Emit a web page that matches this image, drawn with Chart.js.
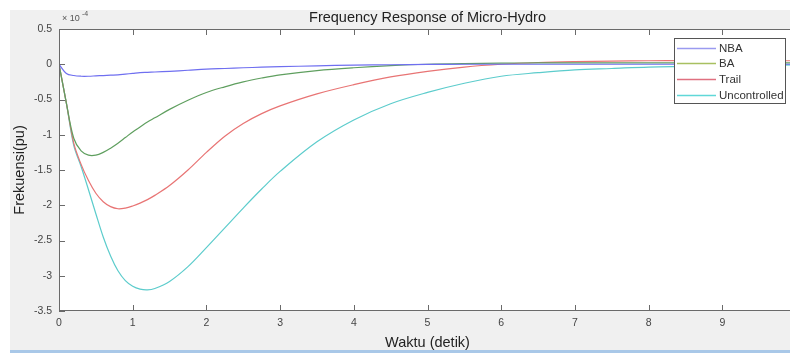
<!DOCTYPE html>
<html>
<head>
<meta charset="utf-8">
<script src="https://cdn.jsdelivr.net/npm/chart.js@4"></script>
<style>
html,body{margin:0;padding:0;background:#fff;overflow:hidden;width:790px;height:354px;}
canvas{display:block;}
</style>
</head>
<body>
<canvas id="c" width="800" height="354" style="width:800px;height:354px"></canvas>
<script>
// time (detik)
const timeS = [0,0.1,0.2,0.3,0.4,0.5,0.6,0.7,0.8,0.9,1.0,1.1,1.2,1.3,1.5,1.75,2,2.25,2.5,2.75,3,3.5,4,4.5,5,5.5,6,6.5,7,7.5,8,8.5,9,9.5,10];
// frequency deviation, x1e-4 pu
const nba = [0,-0.13,-0.16,-0.17,-0.17,-0.165,-0.16,-0.155,-0.15,-0.14,-0.13,-0.12,-0.115,-0.11,-0.1,-0.085,-0.07,-0.06,-0.05,-0.042,-0.035,-0.022,-0.013,-0.007,-0.003,0,0,0,0,0,0,0,0,0,0];
const ba = [0,-0.55,-1.05,-1.23,-1.29,-1.29,-1.25,-1.19,-1.12,-1.04,-0.96,-0.89,-0.82,-0.76,-0.64,-0.51,-0.4,-0.32,-0.25,-0.195,-0.15,-0.09,-0.05,-0.02,0,0.01,0.015,0.02,0.02,0.02,0.02,0.02,0.02,0.02,0.02];
const trail = [0,-0.55,-1.12,-1.42,-1.65,-1.83,-1.95,-2.02,-2.05,-2.04,-2.01,-1.97,-1.92,-1.86,-1.72,-1.5,-1.25,-1.02,-0.84,-0.7,-0.59,-0.42,-0.29,-0.18,-0.1,-0.04,0,0.025,0.038,0.045,0.05,0.05,0.05,0.05,0.05];
const uncontrolled = [0,-0.55,-1.15,-1.45,-1.78,-2.12,-2.45,-2.72,-2.93,-3.07,-3.15,-3.19,-3.2,-3.18,-3.08,-2.87,-2.6,-2.32,-2.04,-1.77,-1.52,-1.1,-0.79,-0.56,-0.4,-0.27,-0.17,-0.12,-0.08,-0.06,-0.04,-0.03,-0.02,-0.015,-0.01];
const seriesNames = ['NBA','BA','Trail','Uncontrolled'];
const seriesColors = ['#6f6ff0','#5f9f5f','#e87474','#5ccccc'];
const legendColors = ['#9a9af0','#a8c060','#e07080','#60d8d8'];
const xTicks = [0,1,2,3,4,5,6,7,8,9];
const yTicks = [0.5,0,-0.5,-1,-1.5,-2,-2.5,-3,-3.5];
const chartTitle = 'Frequency Response of Micro-Hydro';
const xTitle = 'Waktu (detik)';
const yTitle = 'Frekuensi(pu)';

const allSeries = [nba, ba, trail, uncontrolled];
const datasets = allSeries.map((vals, i) => ({
  label: seriesNames[i],
  data: vals.map((v, k) => ({x: timeS[k], y: v})),
  borderColor: seriesColors[i],
  borderWidth: 1.2,
  pointRadius: 0,
  fill: false,
  tension: 0.35
}));

const FONT = '"Liberation Sans", Arial, sans-serif';

const decor = {
  id: 'decor',
  beforeDraw(chart) {
    const ctx = chart.ctx, a = chart.chartArea;
    ctx.save();
    ctx.fillStyle = '#ffffff';
    ctx.fillRect(0, 0, chart.width, chart.height);
    ctx.fillStyle = '#f0f0f0';
    ctx.fillRect(10, 10, chart.width - 10, 340);
    ctx.fillStyle = '#a9c8e8';
    ctx.fillRect(10, 350, chart.width - 10, 3);
    ctx.fillStyle = '#ffffff';
    ctx.fillRect(a.left, a.top, a.right - a.left, a.bottom - a.top);
    ctx.restore();
  },
  afterDatasetsDraw(chart) {
    const ctx = chart.ctx, a = chart.chartArea;
    const xs = chart.scales.x, ys = chart.scales.y;
    ctx.save();
    ctx.strokeStyle = '#6a6a6a';
    ctx.lineWidth = 1;
    ctx.strokeRect(a.left + 0.5, a.top + 0.5, a.right - a.left - 1, a.bottom - a.top - 1);
    ctx.beginPath();
    xTicks.forEach(t => {
      const px = Math.round(xs.getPixelForValue(t)) + 0.5;
      ctx.moveTo(px, a.bottom); ctx.lineTo(px, a.bottom - 6);
      ctx.moveTo(px, a.top); ctx.lineTo(px, a.top + 6);
    });
    yTicks.forEach(t => {
      const py = Math.round(ys.getPixelForValue(t)) + 0.5;
      ctx.moveTo(a.left, py); ctx.lineTo(a.left + 6, py);
      ctx.moveTo(a.right, py); ctx.lineTo(a.right - 6, py);
    });
    ctx.stroke();
    // title
    ctx.fillStyle = '#222';
    ctx.font = '14.5px ' + FONT;
    ctx.textAlign = 'center';
    ctx.textBaseline = 'middle';
    ctx.fillText(chartTitle, (a.left + a.right) / 2, 18);
    // exponent
    ctx.textAlign = 'left';
    ctx.fillStyle = '#555';
    ctx.font = '9px ' + FONT;
    ctx.fillText('\u00d7 10', a.left + 3, 19);
    ctx.font = '7px ' + FONT;
    ctx.fillText('-4', a.left + 23, 14);
    // legend
    const lx = 674, ly = 38, lw = 111, lh = 65;
    ctx.fillStyle = '#ffffff';
    ctx.fillRect(lx, ly, lw, lh);
    ctx.strokeStyle = '#555';
    ctx.strokeRect(lx + 0.5, ly + 0.5, lw, lh);
    const rows = [48, 63, 79, 95];
    chart.data.datasets.forEach((ds, i) => {
      ctx.strokeStyle = legendColors[i];
      ctx.lineWidth = 1.3;
      ctx.beginPath();
      ctx.moveTo(677, rows[i] + 0.5); ctx.lineTo(716, rows[i] + 0.5);
      ctx.stroke();
      ctx.fillStyle = '#333';
      ctx.font = '11.5px ' + FONT;
      ctx.textAlign = 'left';
      ctx.fillText(ds.label, 719, rows[i] + 1);
    });
    ctx.restore();
  }
};

new Chart(document.getElementById('c'), {
  type: 'line',
  data: { datasets },
  options: {
    responsive: false,
    animation: false,
    devicePixelRatio: 1,
    layout: { padding: { left: 10, top: 29, right: 4, bottom: 0 } },
    plugins: { legend: { display: false }, title: { display: false }, tooltip: { enabled: false } },
    scales: {
      x: {
        type: 'linear', min: 0, max: 10,
        afterBuildTicks(s) { s.ticks = xTicks.map(v => ({ value: v })); },
        afterFit(s) { s.height = 43; },
        grid: { display: false, drawTicks: false },
        border: { display: false },
        ticks: { padding: 6, color: '#444', font: { family: FONT, size: 10.5 }, callback: v => String(v) },
        title: { display: true, text: xTitle, color: '#222', font: { family: FONT, size: 14.5 }, padding: { top: 0, bottom: 2 } }
      },
      y: {
        type: 'linear', min: -3.5, max: 0.5,
        afterBuildTicks(s) { s.ticks = yTicks.map(v => ({ value: v })); },
        afterFit(s) { s.width = 49; },
        grid: { display: false, drawTicks: false },
        border: { display: false },
        ticks: { padding: 7, color: '#444', font: { family: FONT, size: 10.5 }, callback: v => String(v) },
        title: { display: true, text: yTitle, color: '#222', font: { family: FONT, size: 14.5 }, padding: { top: 1, bottom: 0 } }
      }
    }
  },
  plugins: [decor]
});
</script>
</body>
</html>
